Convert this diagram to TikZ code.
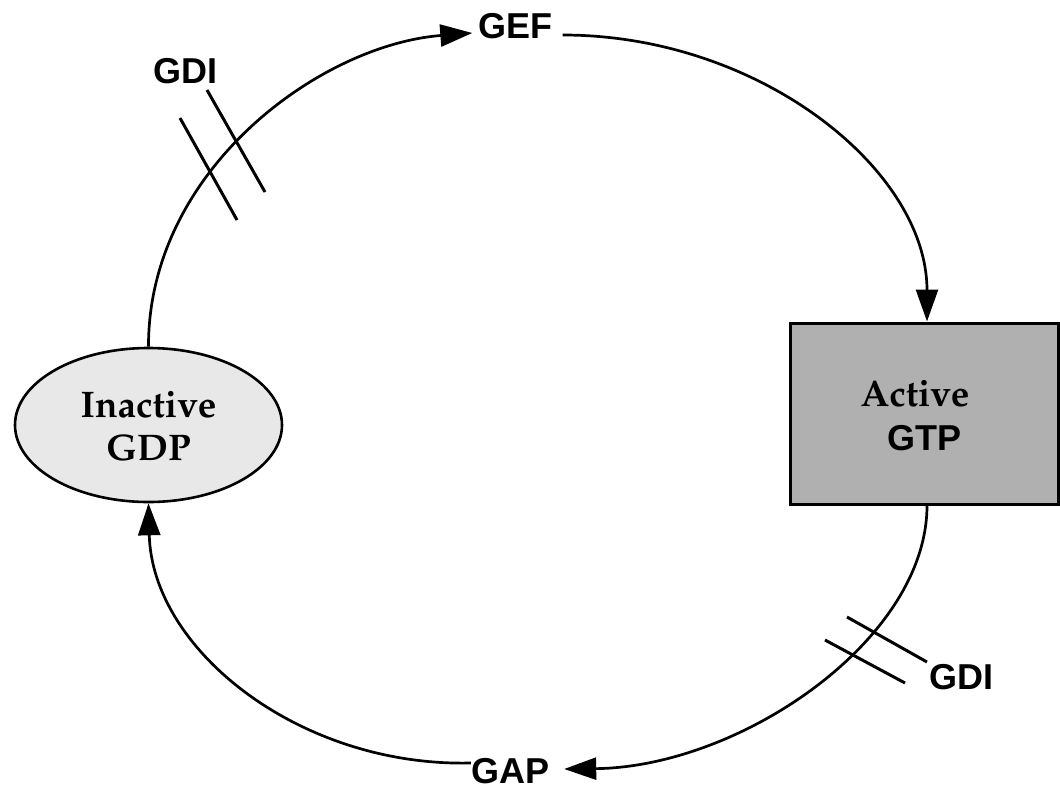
\documentclass[tikz,border=0pt]{standalone}
\usepackage{fontspec}
\setsansfont{Liberation Sans}
\usetikzlibrary{arrows.meta,shapes.geometric}
\newcommand\palbold{\fontencoding{OT1}\fontfamily{ppl}\fontseries{b}\selectfont}
\newcommand\lowerby[2]{\raisebox{-#1}[\height][\depth]{#2}}
\begin{document}
\begin{tikzpicture}[x=1pt,y=-1pt,
  conn/.style={line width=2.7pt,-{Triangle[length=32pt,width=22pt]}},
  lbl/.style={font=\sffamily\bfseries\fontsize{36}{40}\selectfont,inner sep=0pt},
  tickline/.style={line width=3pt},
  serifbig/.style={font=\palbold\fontsize{37}{44}\selectfont}]
\useasboundingbox (0,0) rectangle (1060,793);
\node[ellipse,draw,line width=2.6pt,fill=gray!18,minimum width=267pt,minimum height=154pt,
      inner sep=0pt,serifbig] (inact) at (148.5,425)
      {\lowerby{5pt}{\begin{tabular}{@{}c@{}}Inactive\\[-1pt]GDP\end{tabular}}};
\node[rectangle,draw,line width=3pt,fill=gray!62,minimum width=268pt,minimum height=181pt,
      inner sep=0pt,font=\fontsize{37}{44}\selectfont] (active) at (924,413.5)
      {\lowerby{6pt}{\begin{tabular}{@{}c@{}}{\palbold Active}\hspace*{18pt}\\{\sffamily\bfseries\fontsize{36}{44}\selectfont GTP}\end{tabular}}};
\node[lbl] (gef) at (515.5,26.5) {GEF};
\node[lbl] (gap) at (510,771.5) {GAP};
\node[lbl] (gdi1) at (185,71) {GDI};
\node[lbl] (gdi2) at (961,677) {GDI};
\draw[conn] (inact.north) .. controls (148,170) and (320,45) .. ([xshift=-6pt,yshift=-6.5pt]gef.west);
\draw[conn] ([xshift=10pt,yshift=-8.5pt]gef.east) .. controls (760,35) and (927,170) .. ([xshift=3pt]active.north);
\draw[conn] ([xshift=3pt]active.south) .. controls (927,640) and (740,767) .. ([xshift=15pt,yshift=2.5pt]gap.east);
\draw[conn] ([yshift=8.5pt]gap.west) .. controls (300,767) and (152,650) .. (inact.south);
\draw[tickline] (180,118) -- (237,220);
\draw[tickline] (207,90) -- (265,192);
\draw[tickline] (847,617) -- (927,662);
\draw[tickline] (825,640) -- (905,683);
\end{tikzpicture}
\end{document}
